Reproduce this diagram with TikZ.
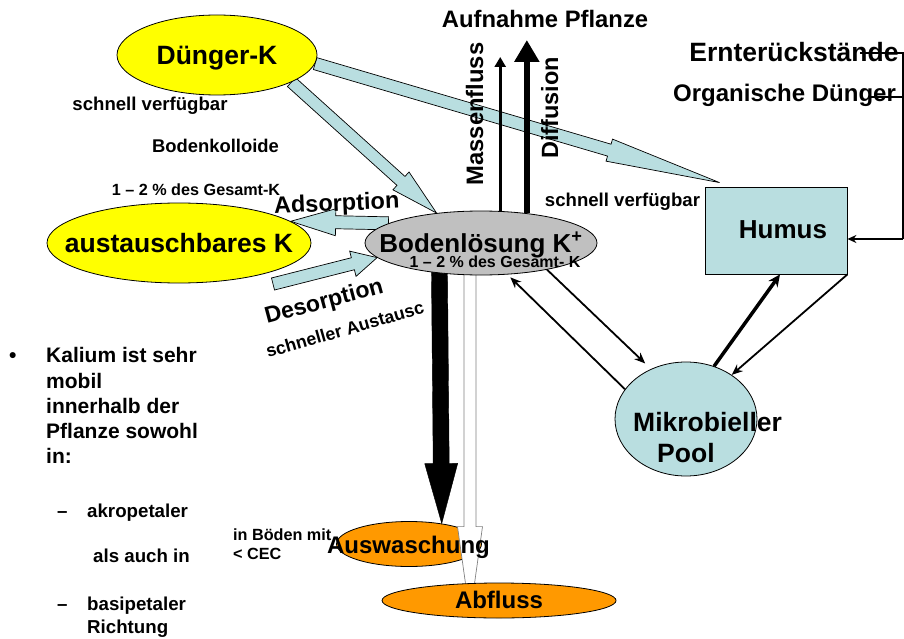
\documentclass[tikz,border=0pt]{standalone}
\usepackage{fontspec}
\setmainfont{Liberation Sans}
\usetikzlibrary{positioning,arrows.meta,shapes.geometric,calc,backgrounds}

\definecolor{kyellow}{RGB}{255,255,0}
\definecolor{kblue}{RGB}{185,222,224}
\definecolor{kgray}{RGB}{192,192,192}
\definecolor{korange}{RGB}{255,153,0}

\newcommand{\kf}[1]{\fontsize{#1}{#1}\selectfont\bfseries}

% block arrow: [style]{tail}{tip}{half shaft}{half head}{head length}
\newcommand{\fatarrow}[6][]{%
  \coordinate (fa) at ($(#3)!#6!(#2)$);
  \draw[#1] ($(#2)!#4!90:(#3)$) -- ($(fa)!#4!90:(#3)$) -- ($(fa)!#5!90:(#3)$)
    -- (#3) -- ($(fa)!#5!-90:(#3)$) -- ($(fa)!#4!-90:(#3)$)
    -- ($(#2)!#4!-90:(#3)$) -- cycle;}

\tikzset{
  kpool/.style={ellipse, draw, line width=0.8pt, inner sep=0pt},
  kbox/.style={rectangle, draw, line width=0.8pt, inner sep=0pt},
  lbl/.style={inner sep=0pt, anchor=base},
  lblw/.style={inner sep=0pt, anchor=base west},
  blue arrow/.style={fill=kblue, draw, line width=0.7pt},
  flow/.style={line width=1.8pt, -{Stealth[length=11pt,width=9pt]}}
}

\begin{document}
\begin{tikzpicture}[x=1pt,y=-1pt]
\useasboundingbox (0,0) rectangle (904,639);

% Pools
\node[kpool, fill=kyellow, minimum width=200pt, minimum height=80pt] (dk) at (217,55) {};
\node[kpool, fill=kyellow, minimum width=264pt, minimum height=80pt] (ak) at (179,243) {};
\node[kpool, fill=kgray, minimum width=232pt, minimum height=64pt] (bl) at (481,243) {};
\node[kbox, fill=kblue, minimum width=142pt, minimum height=87pt] (hum) at (776,230.5) {};
\node[kpool, fill=kblue, minimum width=142pt, minimum height=114pt] (mp) at (686,419) {};
\node[kpool, fill=korange, minimum width=234pt, minimum height=35pt] (abf) at (499,600.5) {};

% Block arrows behind the pools
\begin{pgfonlayer}{background}
  \node[kpool, fill=korange, minimum width=145pt, minimum height=45pt] (aus) at (409,544) {};
  \coordinate (humtip) at ([shift={(15,-4)}]hum.north west);
  \coordinate (desot) at (273,284);
  \coordinate (blkt) at ([yshift=12pt]bl.216);
  \coordinate (wht) at ([xshift=-11pt,yshift=20pt]bl.south);
  \coordinate (whe) at ([xshift=-29pt,yshift=-33pt]abf.north);
  \fatarrow[blue arrow]{dk.-20}{bl.146}{6pt}{12pt}{48pt}
  \fatarrow[blue arrow]{dk.-5}{humtip}{6.2pt}{11.5pt}{115pt}
  \fatarrow[blue arrow]{bl.168}{ak.11}{6.5pt}{13.5pt}{45pt}
  \fatarrow[blue arrow]{desot}{bl.188}{6.2pt}{13pt}{25pt}
  \fatarrow[fill=black, draw]{blkt}{aus.32}{8pt}{16.5pt}{60pt}
  \fatarrow[fill=white, draw=gray, line width=0.7pt]{wht}{whe}{6pt}{12.5pt}{89pt}
\end{pgfonlayer}

% Uptake by the plant
\coordinate (mfe) at (500,57);
\coordinate (dfe) at (526,40);
\draw[line width=3pt, -{Triangle[length=10pt,width=11pt]}] (bl.59) -- (bl.59 |- mfe);
\draw[line width=6.5pt, -{Triangle[length=22pt,width=24pt]}] (bl.33) -- (bl.33 |- dfe);

% Exchange with microbes and humus
\draw[flow, shorten >=4pt] (mp.154) -- (bl.-50);
\draw[flow, shorten >=8pt] (bl.-22) -- (mp.125);
\draw[line width=3.5pt, -{Stealth[length=12pt,width=11pt]}] (mp.62) -- ([xshift=4pt]hum.south);
\draw[flow] (hum.south east) -- (mp.44);

% Residues into humus
\coordinate (ernl) at (860,53);
\coordinate (orgl) at (868,97);
\coordinate (rail) at (903,239);
\draw[line width=1.3pt] (ernl) -| (rail);
\draw[line width=1.3pt] (orgl) -- (orgl -| rail);
\draw[line width=1.8pt, -{Stealth[length=9pt,width=8pt]}] (rail) -- (hum.east |- rail);

% Pool labels
\node[lbl, font=\kf{26.5}] (tdk) at (217,65) {Dünger-K};
\node[lbl, font=\kf{26.5}] (tak) at (179,252) {austauschbares K};
\node[lbl, font=\kf{26}] (tbl) at (481,252) {Bodenlösung K\textsuperscript{+}};
\node[lbl, font=\kf{16}] (tbl2) at (495,267) {1 – 2 \% des Gesamt- K};
\node[lbl, font=\kf{26}] (thum) at (783,238) {Humus};
\node[lblw, font=\kf{26.5}] (tmp1) at (633,431) {Mikrobieller};
\node[lblw, font=\kf{26.5}] (tmp2) at (657,462) {Pool};
\node[lbl, font=\kf{24}] (taus) at (408.5,553) {Auswaschung};
\node[lbl, font=\kf{24}] (tabf) at (499,608) {Abfluss};

% Other labels
\node[lbl, font=\kf{23.8}] (tauf) at (545,28) {Aufnahme Pflanze};
\node[lbl, font=\kf{26.5}] (tern) at (794,62) {Ernterückstände};
\node[lbl, font=\kf{24}] (torg) at (784.5,102) {Organische Dünger};
\node[lbl, font=\kf{23.8}, rotate=90] (tmf) at (483,114) {Massenfluss};
\node[lbl, font=\kf{23.5}, rotate=90] (tdf) at (558,108) {Diffusion};
\node[lbl, font=\kf{18.6}] (tsv1) at (150,111) {schnell verfügbar};
\node[lbl, font=\kf{18.4}] (tbk) at (215.5,153) {Bodenkolloide};
\node[lbl, font=\kf{16.2}] (tpct) at (196,196) {1 – 2 \% des Gesamt-K};
\node[lbl, font=\kf{23.5}, rotate=2.5] (tads) at (337,211) {Adsorption};
\node[lblw, font=\kf{23}, rotate=15] (tdes) at (267,324) {Desorption};
\node[lblw, font=\kf{17.8}, rotate=16] (tsa) at (268,358) {schneller Austausc};
\node[lbl, font=\kf{18.6}] (tsv2) at (622.5,207) {schnell verfügbar};
\node[lblw, font=\kf{16.2}] (tcec1) at (233,540) {in Böden mit};
\node[lblw, font=\kf{16.2}] (tcec2) at (233,559) {< CEC};

% Side note
\node[lblw, font=\kf{21}] (bul) at (9,362) {•};
\node[lblw, font=\kf{21}] (kal1) at (46,362) {Kalium ist sehr};
\node[lblw, font=\kf{21}] (kal2) at (46,388) {mobil};
\node[lblw, font=\kf{21}] (kal3) at (46,413) {innerhalb der};
\node[lblw, font=\kf{21}] (kal4) at (46,438) {Pflanze sowohl};
\node[lblw, font=\kf{21}] (kal5) at (46,463) {in:};
\node[lblw, font=\kf{18.7}] (d1) at (57,517) {–};
\node[lblw, font=\kf{18.7}] (akr) at (87,517) {akropetaler};
\node[lblw, font=\kf{18.7}] (aai) at (93,562) {als auch in};
\node[lblw, font=\kf{18.7}] (d2) at (57,610) {–};
\node[lblw, font=\kf{18.7}] (bas) at (87,610) {basipetaler};
\node[lblw, font=\kf{18.7}] (ric) at (87,633) {Richtung};
\end{tikzpicture}
\end{document}
